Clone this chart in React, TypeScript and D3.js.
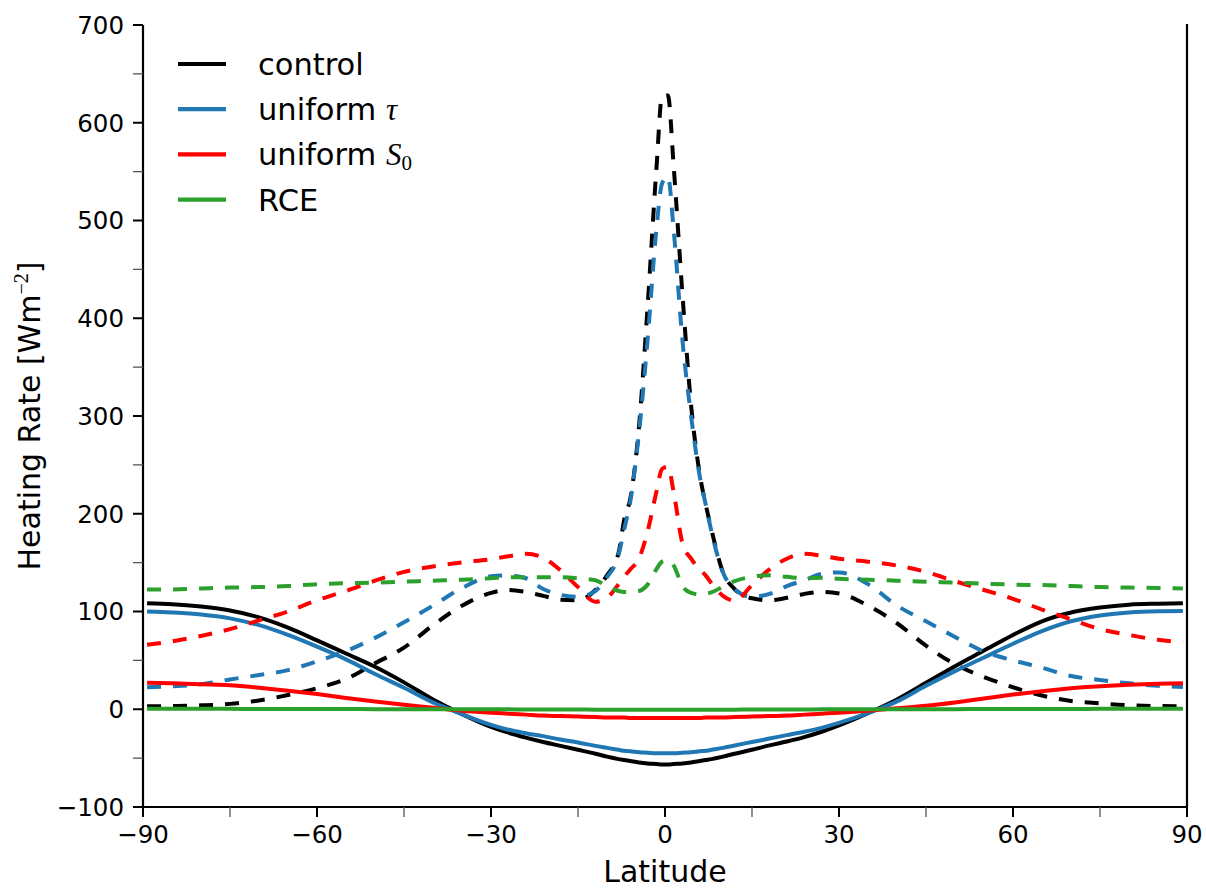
import React from 'react';
import * as d3 from 'd3';

// Latitude grid shared by every profile (degrees)
const latitude = [
  -89.3, -85, -80, -75, -70, -65, -60, -55, -50, -45, -40, -35, -30,
  -27, -24, -21, -18, -15, -12, -10, -8, -7, -6, -4.5, -3, -1.5, -0.5,
  0.5, 1.5, 3, 4.5, 6, 7, 8, 10, 12, 15, 18, 21, 24, 27,
  30, 35, 40, 45, 50, 55, 60, 65, 70, 75, 80, 85, 89.3,
];

// Heating rate profiles [W m^-2]
const controlSolid = [
  108.5, 107.5, 105, 101, 94, 83.5, 70.5, 57, 43.5, 27.5, 10, -5, -18,
  -24, -29, -33.5, -37.5, -41.5, -45.5, -48.5, -51, -52, -53, -54.5, -55.5, -56, -56.5,
  -56.5, -56, -55.5, -54.5, -53, -52, -51, -48.5, -45.5, -41.5, -37, -33, -28.5, -23,
  -16.5, -4, 10, 27, 44, 60, 76, 90, 99, 104, 107, 108, 108.5,
];
const controlDashed = [
  3, 3.3, 4, 5.5, 9, 14.5, 21.5, 31, 47, 63, 86, 106, 119,
  122, 120, 116, 112, 111.5, 122, 137, 160, 195, 215, 288, 412, 551, 627,
  628, 555, 425, 311, 240, 210, 184, 140, 123, 113.5, 111.5, 114, 118, 120,
  118.5, 106, 88, 65, 46, 33, 22.5, 14, 8.5, 6, 4, 3.3, 3,
];
const tauSolid = [
  100, 99, 97, 93, 86, 76, 64, 51, 36, 22, 7, -5, -16,
  -21, -24.5, -27.5, -31, -34, -37.5, -39.5, -41.5, -42.5, -43, -44, -44.5, -45, -45,
  -45, -45, -44.5, -44, -43, -42.5, -41.5, -39.5, -37, -33.5, -30, -26.5, -23, -19,
  -14, -4, 8, 24, 39, 53, 67, 80, 90, 96, 99, 100.3, 100.6,
];
const tauDashed = [
  22.5, 23.5, 25.5, 30.5, 35, 40, 49, 59.5, 73, 89, 106, 124, 136,
  137, 134, 123, 117, 115, 121, 135, 158, 185, 212, 282, 378, 490, 538,
  545, 490, 378, 300, 238, 210, 182, 140, 123, 115, 118, 126, 132, 138.5,
  140, 128, 106, 90, 74, 59, 50, 42.5, 34, 30, 26.5, 24, 22.8,
];
const s0Solid = [
  27, 26.5, 25.5, 24.5, 22, 19, 15.5, 11.5, 8, 4.5, 1.5, -1.5, -3.5,
  -4.5, -5.5, -6.5, -7, -7.5, -8, -8.5, -8.5, -8.5, -9, -9, -9, -9, -9,
  -9, -9, -9, -9, -9, -8.5, -8.5, -8.5, -8, -7.5, -7, -6.5, -5.5, -4.5,
  -3.5, -1.5, 1, 3.5, 7, 11, 15, 18.5, 21.5, 23.5, 25, 26, 26.5,
];
const s0Dashed = [
  66, 69.5, 75, 82, 91, 100, 111.5, 121, 131.5, 140.5, 146, 150.3, 153.5,
  156.5, 159, 155, 142, 125, 110, 114, 128, 136, 143, 154, 182, 222, 246,
  248, 222, 170, 154, 143, 137, 129, 116, 111, 127, 143, 154, 159, 157,
  154, 151, 147, 140.5, 131, 122, 113, 102, 92, 82, 76, 71, 68.5,
];
const rceSolid = [
  0.5, 0.5, 0.4, 0.4, 0.3, 0.3, 0.2, 0.2, 0.1, 0.1, 0, 0, -0.1,
  -0.1, -0.2, -0.2, -0.3, -0.3, -0.4, -0.4, -0.4, -0.5, -0.5, -0.5, -0.5, -0.5, -0.5,
  -0.5, -0.5, -0.5, -0.5, -0.5, -0.5, -0.4, -0.4, -0.4, -0.3, -0.3, -0.2, -0.2, -0.1,
  -0.1, 0, 0, 0.1, 0.1, 0.2, 0.2, 0.3, 0.3, 0.4, 0.4, 0.5, 0.5,
];
const rceDashed = [
  122.5, 122.5, 123.5, 124.5, 125, 126, 128, 129, 129.5, 130.5, 131.5, 132.5, 134,
  135, 135, 135, 135, 134, 132, 126, 121, 120, 120, 121, 127.5, 143, 151,
  152.5, 147, 126, 119, 117.5, 118, 119.5, 125.5, 131, 135.5, 137, 135.5, 134, 134.5,
  133.5, 132.5, 131.5, 130.5, 129.5, 128.5, 127.5, 127, 126, 125, 124.5, 124, 123.5,
];

const xTicks = [-90, -60, -30, 0, 30, 60, 90];
const xMinorTicks = [-75, -45, -15, 15, 45, 75];
const yTicks = [-100, 0, 100, 200, 300, 400, 500, 600, 700];
const yMinorTicks = [-50, 50, 150, 250, 350, 450, 550, 650];

const series = [
  { key: 'control', color: '#000000', solid: controlSolid, dashed: controlDashed },
  { key: 'tau', color: '#1f77b4', solid: tauSolid, dashed: tauDashed },
  { key: 's0', color: '#ff0000', solid: s0Solid, dashed: s0Dashed },
  { key: 'rce', color: '#2ca02c', solid: rceSolid, dashed: rceDashed },
];

const SANS = 'DejaVu Sans, sans-serif';
const SERIF = 'Liberation Serif, DejaVu Serif, serif';

export default function App() {
  const W = 1206;
  const H = 888;
  const left = 143, right = 1187, top = 25, bottom = 807;
  const x = d3.scaleLinear().domain([-90, 90]).range([left, right]);
  const y = d3.scaleLinear().domain([-100, 700]).range([bottom, top]);
  const fmt = d3.format('d');

  const line = (vals: number[]) =>
    d3.line<number>()
      .x((_, i) => x(latitude[i]))
      .y((v) => y(v))
      .curve(d3.curveMonotoneX)(vals) || '';

  const legendRows = [0, 1, 2, 3];
  const legendY = (i: number) => 64 + i * 45.2;

  return (
    <svg width={W} height={H} style={{ position: 'absolute', left: 0, top: 0, background: '#fff' }}
      fontFamily={SANS}>
      <rect x={0} y={0} width={W} height={H} fill="#fff" />

      {/* profiles */}
      <g fill="none" strokeWidth={4} strokeLinejoin="round">
        {series.map((s) => (
          <g key={s.key}>
            <path d={line(s.solid)} stroke={s.color} />
            <path d={line(s.dashed)} stroke={s.color} strokeDasharray="14 12" />
          </g>
        ))}
      </g>

      {/* spines */}
      <line x1={left} x2={left} y1={top} y2={bottom} stroke="#000" strokeWidth={2.2} />
      <line x1={right} x2={right} y1={top - 1} y2={bottom} stroke="#000" strokeWidth={2.2} />
      <line x1={left} x2={right} y1={bottom} y2={bottom} stroke="#000" strokeWidth={2.2} />

      {/* y axis ticks */}
      {yTicks.map((t) => (
        <g key={'y' + t}>
          <line x1={left - 10} x2={left} y1={y(t)} y2={y(t)} stroke="#000" strokeWidth={2} />
          <text x={left - 19} y={y(t)} dy="0.36em" textAnchor="end" fontSize={24.5}>{fmt(t)}</text>
        </g>
      ))}
      {yMinorTicks.map((t) => (
        <line key={'ym' + t} x1={left - 10} x2={left} y1={y(t)} y2={y(t)} stroke="#555" strokeWidth={1.3} />
      ))}

      {/* x axis ticks */}
      {xTicks.map((t) => (
        <g key={'x' + t}>
          <line x1={x(t)} x2={x(t)} y1={bottom} y2={bottom + 10} stroke="#000" strokeWidth={2} />
          <text x={x(t)} y={843} textAnchor="middle" fontSize={24.5}>{fmt(t)}</text>
        </g>
      ))}
      {xMinorTicks.map((t) => (
        <line key={'xm' + t} x1={x(t)} x2={x(t)} y1={bottom} y2={bottom + 10} stroke="#555" strokeWidth={1.3} />
      ))}

      {/* axis labels */}
      <text x={(left + right) / 2} y={882} textAnchor="middle" fontSize={30}>Latitude</text>
      <text transform={`translate(40,${(top + bottom) / 2}) rotate(-90)`} textAnchor="middle" fontSize={30}>
        Heating Rate [Wm
        <tspan dy={-12} fontSize={20} fontFamily={SERIF}>−2</tspan>
        <tspan dy={12}>]</tspan>
      </text>

      {/* legend */}
      {legendRows.map((i) => (
        <line key={'lg' + i} x1={178} x2={226} y1={legendY(i)} y2={legendY(i)}
          stroke={series[i].color} strokeWidth={4.2} />
      ))}
      <g fontSize={30.5}>
        <text x={258} y={legendY(0) + 11}>control</text>
        <text x={258} y={legendY(1) + 11}>
          uniform <tspan fontFamily={SERIF} fontStyle="italic" fontSize={31}>τ</tspan>
        </text>
        <text x={258} y={legendY(2) + 11}>
          uniform <tspan fontFamily={SERIF} fontStyle="italic" fontSize={31}>S</tspan>
          <tspan fontFamily={SERIF} fontSize={21} dy={5}>0</tspan>
        </text>
        <text x={258} y={legendY(3) + 11}>RCE</text>
      </g>
    </svg>
  );
}
